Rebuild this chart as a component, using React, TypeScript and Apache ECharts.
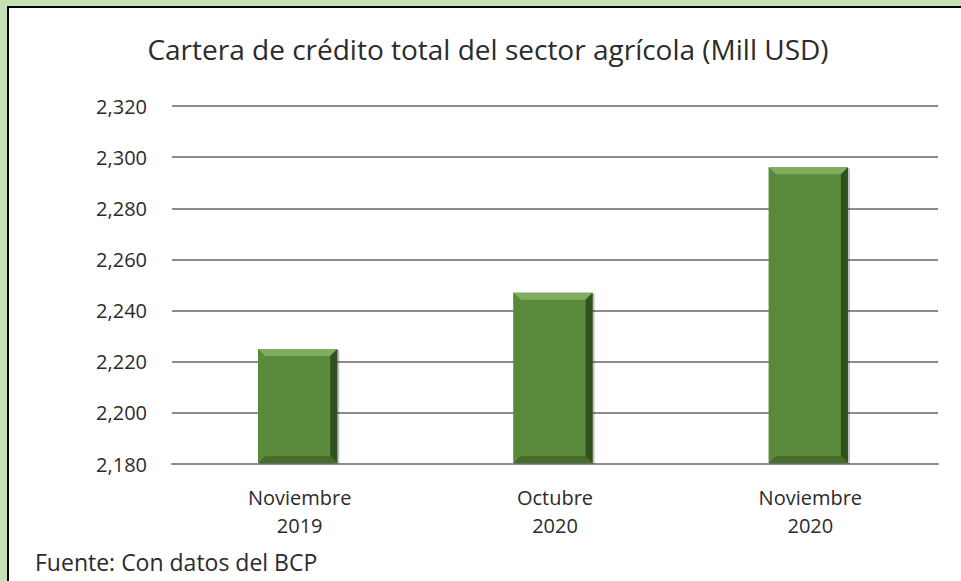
import React, { useEffect, useRef } from "react";
import * as echarts from "echarts";

const categories = ["Noviembre\n2019", "Octubre\n2020", "Noviembre\n2020"];
const values = [2225, 2247, 2296];
const yTicks = { min: 2180, max: 2320, interval: 20 };
const titleText = "Cartera de crédito total del sector agrícola (Mill USD)";
const sourceText = "Fuente: Con datos del BCP";

const FONT = "'Open Sans', 'Noto Sans', sans-serif";

export default function App() {
  const ref = useRef<HTMLDivElement>(null);
  useEffect(() => {
    if (!ref.current) return;
    const chart = echarts.init(ref.current, null, { renderer: "svg" });
    chart.setOption({
      animation: false,
      backgroundColor: "transparent",
      title: {
        text: titleText,
        left: 483,
        textAlign: "center",
        top: 30,
        textStyle: { fontFamily: FONT, fontSize: 28, fontWeight: "normal", color: "#2b2b2b" },
      },
      grid: { left: 172, right: 23, top: 106, bottom: 117 },
      xAxis: {
        type: "category",
        data: categories,
        axisLine: { show: true, lineStyle: { color: "#8c8c8c", width: 2 } },
        axisTick: { show: false },
        axisLabel: {
          margin: 19,
          fontFamily: FONT,
          fontSize: 20,
          lineHeight: 28,
          color: "#2b2b2b",
        },
      },
      yAxis: {
        type: "value",
        min: yTicks.min,
        max: yTicks.max,
        interval: yTicks.interval,
        axisLine: { show: false },
        axisTick: { show: false },
        splitLine: { lineStyle: { color: "#8c8c8c", width: 2 } },
        axisLabel: {
          margin: 25,
          fontFamily: FONT,
          fontSize: 20,
          color: "#2b2b2b",
          formatter: (v: number) => v.toLocaleString("en-US"),
        },
      },
      graphic: [
        {
          type: "text",
          left: 35,
          top: 550,
          style: { text: sourceText, fontFamily: FONT, fontSize: 23, fill: "#2b2b2b" },
        },
      ],
      series: [
        {
          type: "custom",
          data: values.map((v, i) => [i, v]),
          encode: { x: 0, y: 1 },
          renderItem: (params: any, api: any) => {
            const idx = api.value(0);
            const v = api.value(1);
            const top = api.coord([idx, v]);
            const base = api.coord([idx, yTicks.min]);
            const bw = api.size([1, 0])[0] * 0.31;
            const l = top[0] - bw / 2 - 2;
            const r = l + bw;
            const t = top[1];
            const b = base[1] - 1;
            const d = 7;
            return {
              type: "group",
              children: [
                { type: "rect", shape: { x: l + 1, y: t + 1, width: bw + 1, height: b - t }, style: { fill: "rgba(0,0,0,0.25)" } },
                { type: "rect", shape: { x: l, y: t, width: bw, height: b - t }, style: { fill: "#5b8b3b" } },
                { type: "polygon", shape: { points: [[l, t], [r, t], [r - d, t + d], [l + d, t + d]] }, style: { fill: "#80ad60" } },
                { type: "polygon", shape: { points: [[r, t], [r, b], [r - d, b - d], [r - d, t + d]] }, style: { fill: "#31501d" } },
                { type: "polygon", shape: { points: [[l, b], [r, b], [r - d, b - d], [l + d, b - d]] }, style: { fill: "#456c2b" } },
                { type: "polygon", shape: { points: [[l, t], [l + d, t + d], [l + d, b - d], [l, b]] }, style: { fill: "#5a8a39" } },
              ],
            };
          },
        },
      ],
    });
    return () => chart.dispose();
  }, []);

  return (
    <div style={{ position: "fixed", left: 0, top: 0, width: 961, height: 581, background: "#c5e0b4", overflow: "hidden" }}>
      <div
        style={{
          position: "absolute",
          left: 7,
          top: 6,
          width: 970,
          height: 600,
          background: "#ffffff",
          borderLeft: "2px solid #000",
          borderTop: "2px solid #000",
        }}
      />
      <div ref={ref} style={{ position: "absolute", left: 0, top: 0, width: 961, height: 581 }} />
    </div>
  );
}
